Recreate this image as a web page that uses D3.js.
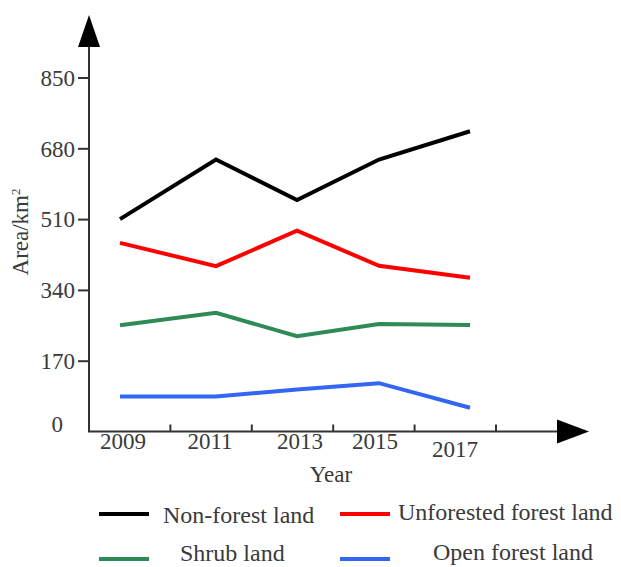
<!DOCTYPE html>
<html><head><meta charset="utf-8">
<script src="https://cdn.jsdelivr.net/npm/d3@7"></script>
<style>body{margin:0;background:#fff}svg{display:block}text{font-family:"Liberation Serif","Times New Roman",serif;fill:#3a3a3a}</style>
</head><body><svg id="c" width="621" height="567"></svg>
<script>
const years = [2009, 2011, 2013, 2015, 2017];
const nonForest = [510, 653, 556, 653, 721];
const unforested = [453, 397, 482, 398, 369];
const shrub = [255, 285, 229, 258, 256];
const openForest = [84, 84, 101, 116, 57];
const yTicks = [170, 340, 510, 680, 850];
const seriesNames = ["Non-forest land", "Unforested forest land", "Shrub land", "Open forest land"];
const seriesColors = ["#000000", "#ff0000", "#2e8b57", "#3366f2"];
const seriesValues = [nonForest, unforested, shrub, openForest];

const svg = d3.select("#c");
const y = d3.scaleLinear().domain([0, 850]).range([431.5, 77.5]);
const xPt = d3.scaleLinear().domain(years).range([120, 216, 297, 379, 470]);
const xBand = d3.scaleBand().domain(years).range([89, 496]);
const xLab = d3.scaleOrdinal().domain(years).range([123, 210, 300, 375, 455]);
const axisColor = "#333";

// y axis
const ya = svg.append("g").attr("transform", "translate(89,0)")
  .call(d3.axisLeft(y).tickValues(yTicks).tickSize(11).tickPadding(3));
ya.select(".domain").remove();
ya.selectAll(".tick line").attr("stroke", axisColor).attr("stroke-width", 2);
ya.selectAll(".tick text").attr("font-size", 23).attr("font-family", "Liberation Serif").attr("fill", "#3a3a3a").attr("dy", "0.34em");
svg.append("line").attr("x1", 89).attr("x2", 89).attr("y1", 46).attr("y2", y(0))
  .attr("stroke", axisColor).attr("stroke-width", 2);
svg.append("path").attr("d", "M89,15L78,47L100,47Z").attr("fill", "#000");
svg.append("text").attr("x", 63).attr("y", y(0) - 7).attr("dy", "0.34em").attr("text-anchor", "end")
  .attr("font-size", 23).text("0");

// x axis
svg.append("line").attr("x1", 88).attr("x2", 558).attr("y1", y(0)).attr("y2", y(0))
  .attr("stroke", axisColor).attr("stroke-width", 2);
svg.append("path").attr("d", `M589,${y(0)}L557,${y(0)-12}L557,${y(0)+12}Z`).attr("fill", "#000");
svg.selectAll(".xt").data(years).enter().append("line")
  .attr("x1", d => xBand(d) + xBand.bandwidth()).attr("x2", d => xBand(d) + xBand.bandwidth())
  .attr("y1", y(0)).attr("y2", y(0) - 7).attr("stroke", axisColor).attr("stroke-width", 2);
svg.selectAll(".xl").data(years).enter().append("text")
  .attr("x", d => xLab(d)).attr("y", (d, i) => i === 4 ? 457 : 449)
  .attr("text-anchor", "middle").attr("font-size", 23).text(d => d);
svg.append("text").attr("x", 331).attr("y", 482).attr("text-anchor", "middle").attr("font-size", 23).text("Year");

// y label
const yl = svg.append("text").attr("transform", "translate(28,232) rotate(-90)")
  .attr("text-anchor", "middle").attr("font-size", 23);
yl.append("tspan").text("Area/km");
yl.append("tspan").attr("font-size", 13).attr("dy", "-0.6em").text("2");

// lines
const line = d3.line().x((d, i) => xPt(years[i])).y(d => y(d));
seriesValues.forEach((vals, k) => {
  svg.append("path").datum(vals).attr("d", line).attr("fill", "none")
    .attr("stroke", seriesColors[k]).attr("stroke-width", 4).attr("stroke-linejoin", "miter");
});

// legend
const legPos = [[99, 514, 163, 523], [340, 514, 398, 520], [99, 559, 180, 561], [340, 559, 433, 560]];
seriesNames.forEach((n, k) => {
  const p = legPos[k];
  svg.append("line").attr("x1", p[0]).attr("x2", p[0] + 50).attr("y1", p[1]).attr("y2", p[1])
    .attr("stroke", seriesColors[k]).attr("stroke-width", 4);
  svg.append("text").attr("x", p[2]).attr("y", p[3]).attr("font-size", 24).text(n);
});
</script></body></html>
